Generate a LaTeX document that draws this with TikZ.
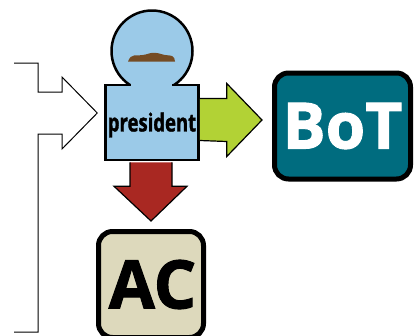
\documentclass[tikz,border=0pt]{standalone}
\usepackage{fontspec}
\setmainfont{Open Sans}
\newfontfamily\narrowfont[FakeStretch=0.74,FakeBold=1.2]{Open Sans Bold}
\newfontfamily\heavyfont[FakeBold=1.5]{Open Sans Bold}
\usetikzlibrary{calc}
\definecolor{skyblue}{HTML}{9BCAE8}
\definecolor{moustache}{HTML}{754C24}
\definecolor{leaf}{HTML}{B2D235}
\definecolor{brick}{HTML}{A92822}
\definecolor{teal}{HTML}{006C7F}
\definecolor{sand}{HTML}{DDD9BC}
\tikzset{
  personpart/.style={draw=black,line width=2.5pt,fill=skyblue,inner sep=0pt},
  boardbox/.style={draw=black,line width=5pt,rounded corners=14pt,inner sep=0pt},
  blockarrow/.style={draw=black,line width=1.2pt,miter limit=10}
}

\begin{document}
\begin{tikzpicture}[x=1pt,y=-1pt]
  \clip (0,0) rectangle (414,335);
  \node[personpart,circle,minimum size=81pt] (head) at (152,51) {};
  \node[personpart,minimum width=93pt,minimum height=75pt] (body) at (152,122.5) {};
  \fill[skyblue] (131,80) rectangle (172,87);
  \node (title) at (152,125) {\narrowfont\fontsize{25}{25}\selectfont president};
  \begin{scope}[shift={(head.center)}]
    \fill[moustache] (-24,10.5) .. controls (-22,6) and (-21,5) .. (-18,4.5)
      .. controls (-12,4.5) and (-7,4) .. (-3,2.5)
      .. controls (0,1.5) and (5,1.5) .. (9,3)
      .. controls (13,4.5) and (17,4) .. (20,5)
      .. controls (22,6) and (23,8) .. (23,10.5) -- cycle;
  \end{scope}
  \node[boardbox,fill=teal,minimum width=136pt,minimum height=106pt,text=white] (bot) at (342.5,126)
       {\heavyfont\fontsize{64}{64}\selectfont BoT};
  \node[boardbox,fill=sand,minimum width=105pt,minimum height=106pt] (ac) at (151,284.5)
       {\hspace{3pt}\heavyfont\fontsize{67}{67}\selectfont AC};
  \draw[blockarrow,fill=leaf] ($(body.east)+(0,-24)$) -- ++(27,0) -- ++(0,-15) -- ($(bot.west)+(-10,-6)$)
    -- ($(body.east)+(27,34)$) -- ++(0,-15) -- ($(body.east)+(0,18)$);
  \draw[blockarrow,fill=brick] ($(body.south)+(-22,1)$) -- ++(0,24) -- ++(-16,0) -- ($(ac.north)+(0,-8)$)
    -- ($(body.south)+(35,25)$) -- ++(-15,0) -- ++(0,-24);
  \coordinate (inlettop) at (14,63);
  \coordinate (inletbottom) at (14,332);
  \draw[line width=1pt,miter limit=10] (inlettop) -- (38,63) -- (38,92) -- (62,92) -- (62,77)
    -- ($(body.west)+(-7,-9.5)$) -- (62,149) -- (62,134) -- (38,134) -- (38,332) -- (inletbottom);
\end{tikzpicture}
\end{document}
